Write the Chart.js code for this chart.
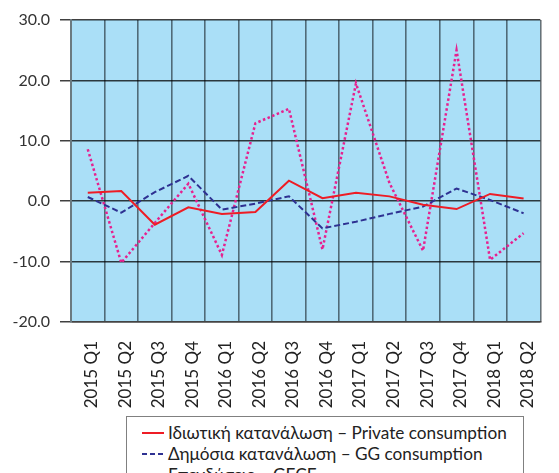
<!DOCTYPE html>
<html>
<head>
<meta charset="utf-8">
<script src="https://cdn.jsdelivr.net/npm/chart.js@4"></script>
<style>
    html, body { margin: 0; padding: 0; background: #fff; overflow: hidden; width: 559px; height: 473px; }
    #wrap { position: absolute; left: 0; top: 0; width: 563px; height: 410px; }
    #legend {
        position: absolute; left: 126px; top: 416px; width: 396px; height: 80px;
        border: 1px solid #808080; font-family: Lato, sans-serif; font-size: 17.2px; color: #222;
    }
    .row { position: absolute; left: 14px; height: 21px; line-height: 21px; white-space: nowrap; }
    .row svg { position: absolute; left: 0; top: 0; }
    .row span { position: absolute; left: 27px; top: 0; }
</style>
</head>
<body>
<div id="wrap"><canvas id="myChart"></canvas></div>
<div id="legend">
    <div class="row" style="top:5px">
        <svg width="24" height="21"><line x1="1" y1="11" x2="23" y2="11" stroke="#ee1c25" stroke-width="2"/></svg>
        <span>Ιδιωτική κατανάλωση – Private consumption</span>
    </div>
    <div class="row" style="top:26px">
        <svg width="24" height="21"><line x1="1" y1="11" x2="23" y2="11" stroke="#2e3192" stroke-width="2" stroke-dasharray="5,3"/></svg>
        <span>Δημόσια κατανάλωση – GG consumption</span>
    </div>
    <div class="row" style="top:47px">
        <svg width="24" height="21"><line x1="1" y1="11" x2="23" y2="11" stroke="#e6218f" stroke-width="2.5" stroke-dasharray="2.5,2.5"/></svg>
        <span>Επενδύσεις – GFCF</span>
    </div>
</div>
<script>
'use strict';

const quarters = ['2015 Q1', '2015 Q2', '2015 Q3', '2015 Q4', '2016 Q1', '2016 Q2', '2016 Q3',
    '2016 Q4', '2017 Q1', '2017 Q2', '2017 Q3', '2017 Q4', '2018 Q1', '2018 Q2'];
const privateConsumption = [1.4, 1.7, -3.9, -1.0, -2.1, -1.8, 3.4, 0.5, 1.4, 0.8, -0.6, -1.3, 1.2, 0.45];
const ggConsumption = [0.7, -1.9, 1.5, 4.2, -1.4, -0.4, 0.8, -4.5, -3.4, -2.1, -0.9, 2.1, 0.2, -2.0];
const gfcf = [8.6, -10.2, -3.6, 2.9, -8.9, 12.9, 15.3, -8.0, 19.5, 3.0, -8.2, 25.0, -9.7, -5.3];
const yMin = -20;
const yMax = 30;
const yStep = 10;

// fills the plot area light blue before anything else is drawn
const plotBackground = {
    id: 'plotBackground',
    beforeDraw(chart) {
        const ctx = chart.ctx;
        const area = chart.chartArea;
        ctx.save();
        ctx.fillStyle = '#aadff7';
        ctx.fillRect(area.left, area.top, area.right - area.left, area.bottom - area.top);
        ctx.restore();
    }
};

const canvasEl = document.getElementById('myChart');

new Chart(canvasEl, {
    type: 'line',
    data: {
        labels: quarters,
        datasets: [{
            label: 'Ιδιωτική κατανάλωση – Private consumption',
            data: privateConsumption,
            borderColor: '#ee1c25',
            borderWidth: 2,
            pointRadius: 0,
            tension: 0
        }, {
            label: 'Δημόσια κατανάλωση – GG consumption',
            data: ggConsumption,
            borderColor: '#2e3192',
            borderWidth: 2,
            borderDash: [6, 3],
            pointRadius: 0,
            tension: 0
        }, {
            label: 'Επενδύσεις – GFCF',
            data: gfcf,
            borderColor: '#e6218f',
            borderWidth: 2.5,
            borderDash: [2.5, 2.5],
            pointRadius: 0,
            tension: 0
        }]
    },
    options: {
        responsive: true,
        maintainAspectRatio: false,
        animation: false,
        layout: { padding: { top: 20, right: 0, bottom: 0, left: 0 } },
        plugins: {
            legend: { display: false },
            tooltip: { enabled: false }
        },
        scales: {
            x: {
                offset: true,
                grid: {
                    offset: true,
                    drawTicks: false,
                    color: 'rgba(20,30,35,0.6)',
                    lineWidth: 1.6
                },
                border: { color: '#444', width: 1.5 },
                ticks: {
                    minRotation: 90,
                    maxRotation: 90,
                    autoSkip: false,
                    padding: 19,
                    labelOffset: 4,
                    color: '#222',
                    font: { family: 'Lato', size: 17 }
                },
                afterFit(scale) {
                    scale.height = 88;
                }
            },
            y: {
                min: yMin,
                max: yMax,
                ticks: {
                    stepSize: yStep,
                    padding: 10,
                    color: '#333',
                    font: { family: 'Lato', size: 16 },
                    callback: value => value.toFixed(1)
                },
                grid: {
                    color: 'rgba(0,0,0,0.75)',
                    lineWidth: 1.5,
                    tickLength: 11
                },
                border: { color: '#6b7a80', width: 2 },
                afterFit(scale) {
                    scale.width = 71;
                }
            }
        }
    },
    plugins: [plotBackground]
});
</script>
</body>
</html>
